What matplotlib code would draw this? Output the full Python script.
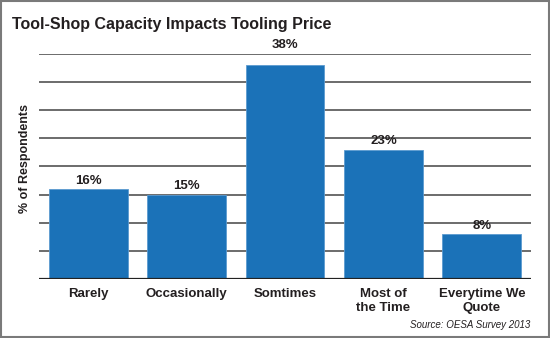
import matplotlib.pyplot as plt
from matplotlib.patches import Rectangle

plt.rcParams['font.family'] = ['Liberation Sans Narrow', 'Liberation Sans', 'DejaVu Sans']

categories = ['Rarely', 'Occasionally', 'Somtimes', 'Most of\nthe Time', 'Everytime We\nQuote']
percent = [16, 15, 38, 23, 8]
yticks = [0, 5, 10, 15, 20, 25, 30, 35, 40]

bar_color = '#1b72b8'
grid_color = '#6b6b6b'
text_color = '#231f20'

fig = plt.figure(figsize=(5.5, 3.38), dpi=100)
ax = fig.add_axes([0.0709, 0.1737, 0.8946, 0.6676])

x = range(len(categories))
ax.bar(x, percent, width=0.8, color=bar_color, edgecolor='#5b9bd0', linewidth=0.6, zorder=3)
for xi, v in zip(x, percent):
    # labels close to the top gridline go above it
    ypos = v + 0.4 if v < 36 else 40.5
    ax.text(xi, ypos, f'{v}%', ha='center', va='bottom', fontsize=9.5,
            fontweight='bold', color=text_color, clip_on=False)

ax.set_xlim(-0.5, 4.5)
ax.set_ylim(0, 40)
ax.set_yticks(yticks)
ax.yaxis.grid(True, color=grid_color, linewidth=1.4, zorder=0)
ax.tick_params(axis='both', length=0)
ax.set_yticklabels([])
ax.set_xticks(list(x))
ax.set_xticklabels(categories, fontsize=9.5, fontweight='bold', color=text_color,
                   linespacing=1.3)
ax.tick_params(axis='x', pad=6)
for s in ax.spines.values():
    s.set_visible(False)
ax.axhline(0, color='#222222', linewidth=1.6, zorder=4)

ax.set_ylabel('% of Respondents', fontsize=9, fontweight='bold', color=text_color)
ax.yaxis.set_label_coords(-0.016, 0.535)

fig.text(0.022, 0.928, 'Tool-Shop Capacity Impacts Tooling Price', fontsize=11.5,
         fontweight='bold', color=text_color, ha='left', va='center')
fig.text(0.965, 0.038, 'Source: OESA Survey 2013', fontsize=7, style='italic',
         color=text_color, ha='right', va='center')

fig.patches.append(Rectangle((0.001, 0.002), 0.997, 0.996, transform=fig.transFigure,
                             fill=False, edgecolor='#7a7a7a', linewidth=1.5))

fig.savefig('out.png', dpi=100)
